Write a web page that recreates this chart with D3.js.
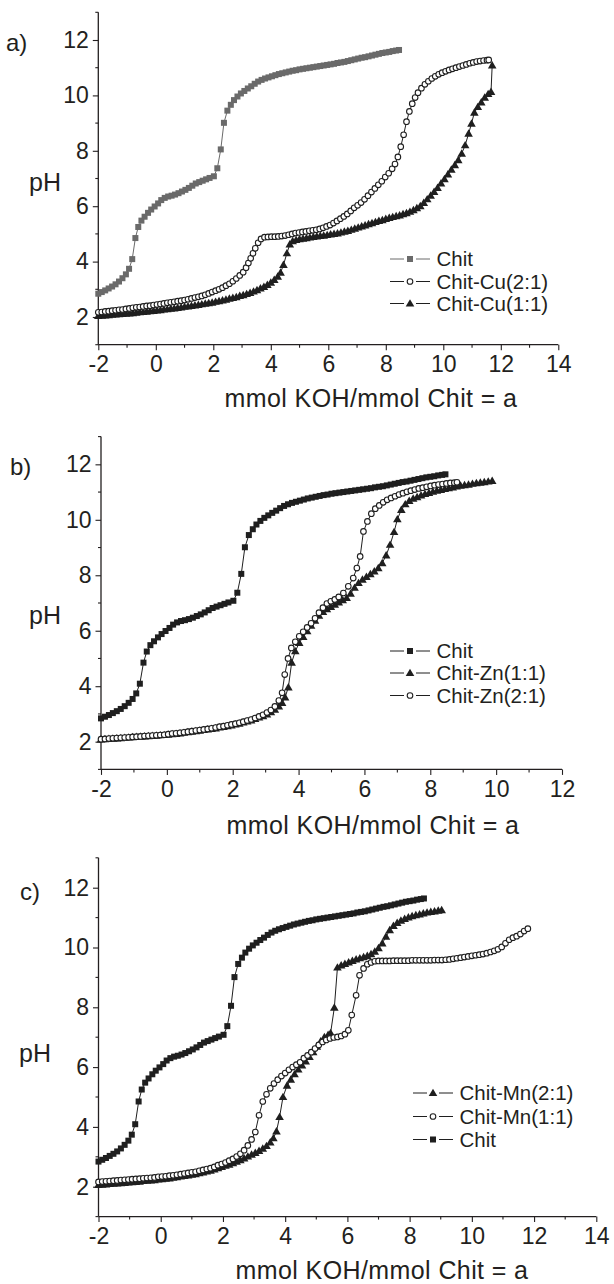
<!DOCTYPE html>
<html><head><meta charset="utf-8">
<script src="https://cdn.jsdelivr.net/npm/d3@7"></script>
<style>
html,body{margin:0;padding:0;background:#fff;}
svg{display:block;}
text{font-family:"Liberation Sans",Arial,sans-serif;fill:#231f20;}
</style></head>
<body>
<svg id="chart" width="614" height="1284"></svg>
<script>
// ---------- data (x = mmol KOH / mmol Chit, y = pH) ----------
const chit = [[-2.00,2.84],[-1.88,2.90],[-1.76,2.96],[-1.64,3.03],[-1.52,3.10],[-1.40,3.18],[-1.28,3.28],[-1.16,3.40],[-1.04,3.54],[-0.93,3.74],[-0.82,4.09],[-0.71,4.85],[-0.61,5.25],[-0.50,5.48],[-0.39,5.62],[-0.27,5.76],[-0.16,5.88],[-0.04,5.99],[0.08,6.10],[0.19,6.22],[0.31,6.30],[0.43,6.35],[0.55,6.38],[0.67,6.42],[0.79,6.47],[0.91,6.53],[1.03,6.59],[1.15,6.66],[1.27,6.74],[1.39,6.82],[1.51,6.87],[1.63,6.92],[1.75,6.97],[1.87,7.02],[2.02,7.08],[2.14,7.37],[2.26,8.05],[2.37,9.01],[2.49,9.45],[2.61,9.66],[2.72,9.83],[2.84,9.96],[2.96,10.07],[3.08,10.16],[3.20,10.25],[3.32,10.33],[3.44,10.42],[3.56,10.50],[3.68,10.56],[3.80,10.61],[3.92,10.65],[4.04,10.69],[4.16,10.73],[4.28,10.77],[4.40,10.80],[4.52,10.83],[4.64,10.86],[4.76,10.89],[4.88,10.91],[5.00,10.94],[5.12,10.96],[5.24,10.98],[5.36,11.00],[5.48,11.02],[5.60,11.04],[5.72,11.06],[5.84,11.08],[5.96,11.10],[6.08,11.12],[6.20,11.14],[6.32,11.17],[6.44,11.19],[6.56,11.21],[6.68,11.24],[6.80,11.27],[6.92,11.30],[7.04,11.33],[7.16,11.36],[7.28,11.38],[7.40,11.41],[7.52,11.44],[7.64,11.47],[7.76,11.50],[7.88,11.53],[8.00,11.55],[8.12,11.57],[8.24,11.60],[8.36,11.62],[8.46,11.64]];

const cu21 = [[-2.00,2.17],[-1.88,2.18],[-1.76,2.20],[-1.64,2.21],[-1.52,2.23],[-1.40,2.24],[-1.28,2.26],[-1.16,2.27],[-1.04,2.29],[-0.92,2.31],[-0.80,2.33],[-0.68,2.35],[-0.56,2.36],[-0.44,2.38],[-0.32,2.40],[-0.20,2.41],[-0.08,2.43],[0.04,2.45],[0.16,2.47],[0.28,2.49],[0.40,2.51],[0.52,2.53],[0.64,2.55],[0.76,2.57],[0.88,2.59],[1.00,2.61],[1.12,2.64],[1.24,2.67],[1.36,2.70],[1.48,2.73],[1.60,2.76],[1.72,2.80],[1.84,2.85],[1.96,2.90],[2.08,2.95],[2.20,3.00],[2.32,3.06],[2.44,3.13],[2.56,3.20],[2.68,3.29],[2.80,3.39],[2.92,3.50],[3.04,3.62],[3.14,3.78],[3.22,3.95],[3.30,4.12],[3.38,4.30],[3.46,4.48],[3.56,4.68],[3.66,4.82],[3.78,4.88],[3.90,4.89],[4.02,4.90],[4.14,4.90],[4.26,4.91],[4.38,4.92],[4.50,4.94],[4.62,4.97],[4.74,5.00],[4.86,5.03],[4.98,5.05],[5.10,5.07],[5.22,5.09],[5.34,5.11],[5.46,5.13],[5.58,5.15],[5.70,5.18],[5.82,5.22],[5.94,5.27],[6.06,5.32],[6.18,5.39],[6.30,5.47],[6.42,5.55],[6.54,5.63],[6.66,5.72],[6.78,5.83],[6.90,5.94],[7.02,6.03],[7.14,6.13],[7.26,6.25],[7.38,6.38],[7.50,6.51],[7.62,6.64],[7.74,6.77],[7.86,6.90],[7.98,7.05],[8.10,7.19],[8.22,7.35],[8.32,7.52],[8.42,7.78],[8.52,8.15],[8.62,8.58],[8.72,9.05],[8.82,9.42],[8.92,9.70],[9.02,9.92],[9.12,10.10],[9.24,10.26],[9.36,10.40],[9.48,10.51],[9.60,10.61],[9.72,10.69],[9.84,10.76],[9.96,10.82],[10.08,10.87],[10.20,10.92],[10.32,10.96],[10.44,11.00],[10.56,11.04],[10.68,11.08],[10.80,11.12],[10.92,11.16],[11.04,11.19],[11.16,11.22],[11.28,11.24],[11.40,11.26],[11.52,11.27],[11.58,11.28]];

const cu11 = [[-2.00,2.04],[-1.88,2.05],[-1.76,2.06],[-1.64,2.07],[-1.52,2.08],[-1.40,2.09],[-1.28,2.10],[-1.16,2.11],[-1.04,2.12],[-0.92,2.13],[-0.80,2.14],[-0.68,2.16],[-0.56,2.17],[-0.44,2.18],[-0.32,2.19],[-0.20,2.21],[-0.08,2.22],[0.04,2.24],[0.16,2.25],[0.28,2.27],[0.40,2.28],[0.52,2.30],[0.64,2.31],[0.76,2.33],[0.88,2.35],[1.00,2.37],[1.12,2.38],[1.24,2.40],[1.36,2.42],[1.48,2.44],[1.60,2.46],[1.72,2.48],[1.84,2.50],[1.96,2.52],[2.08,2.55],[2.20,2.57],[2.32,2.60],[2.44,2.63],[2.56,2.66],[2.68,2.69],[2.80,2.72],[2.92,2.76],[3.04,2.79],[3.16,2.83],[3.28,2.87],[3.40,2.92],[3.52,2.97],[3.64,3.03],[3.76,3.09],[3.88,3.16],[4.00,3.24],[4.12,3.34],[4.24,3.46],[4.34,3.60],[4.44,3.88],[4.56,4.30],[4.66,4.62],[4.76,4.74],[4.88,4.78],[5.00,4.81],[5.12,4.83],[5.24,4.85],[5.36,4.87],[5.48,4.89],[5.60,4.91],[5.72,4.93],[5.84,4.94],[5.96,4.96],[6.08,4.98],[6.20,5.00],[6.32,5.02],[6.44,5.05],[6.56,5.08],[6.68,5.11],[6.80,5.15],[6.92,5.19],[7.04,5.23],[7.16,5.27],[7.28,5.31],[7.40,5.35],[7.52,5.39],[7.64,5.43],[7.76,5.47],[7.88,5.50],[8.00,5.54],[8.12,5.58],[8.24,5.61],[8.36,5.64],[8.48,5.67],[8.60,5.71],[8.72,5.75],[8.84,5.80],[8.96,5.86],[9.08,5.93],[9.20,6.00],[9.32,6.12],[9.44,6.25],[9.56,6.38],[9.68,6.52],[9.80,6.66],[9.92,6.82],[10.04,6.98],[10.16,7.15],[10.28,7.32],[10.40,7.48],[10.52,7.66],[10.64,7.90],[10.76,8.20],[10.88,8.62],[10.98,8.98],[11.08,9.38],[11.20,9.58],[11.32,9.75],[11.44,9.92],[11.56,10.05],[11.66,10.13],[11.70,11.08]];

const zn11 = [[-2.00,2.08],[-1.88,2.09],[-1.76,2.10],[-1.64,2.11],[-1.52,2.12],[-1.40,2.13],[-1.28,2.14],[-1.16,2.15],[-1.04,2.16],[-0.92,2.17],[-0.80,2.18],[-0.68,2.19],[-0.56,2.20],[-0.44,2.21],[-0.32,2.22],[-0.20,2.23],[-0.08,2.24],[0.04,2.25],[0.16,2.27],[0.28,2.28],[0.40,2.30],[0.52,2.32],[0.64,2.34],[0.76,2.36],[0.88,2.38],[1.00,2.40],[1.12,2.42],[1.24,2.44],[1.36,2.46],[1.48,2.48],[1.60,2.51],[1.72,2.53],[1.84,2.56],[1.96,2.59],[2.08,2.62],[2.20,2.65],[2.32,2.69],[2.44,2.73],[2.56,2.77],[2.68,2.82],[2.80,2.87],[2.92,2.92],[3.04,2.98],[3.16,3.06],[3.28,3.15],[3.40,3.27],[3.50,3.40],[3.59,3.60],[3.69,3.96],[3.79,4.85],[3.90,5.26],[4.02,5.56],[4.14,5.78],[4.26,5.98],[4.38,6.18],[4.50,6.36],[4.62,6.54],[4.74,6.68],[4.86,6.78],[4.98,6.86],[5.10,6.94],[5.22,7.02],[5.34,7.10],[5.46,7.18],[5.58,7.34],[5.70,7.55],[5.82,7.72],[5.94,7.84],[6.06,7.94],[6.18,8.04],[6.30,8.14],[6.42,8.26],[6.54,8.44],[6.66,8.72],[6.78,9.10],[6.90,9.56],[7.00,10.02],[7.12,10.36],[7.24,10.56],[7.36,10.68],[7.48,10.76],[7.60,10.82],[7.72,10.88],[7.84,10.93],[7.96,10.97],[8.08,11.01],[8.20,11.05],[8.32,11.08],[8.44,11.11],[8.56,11.14],[8.68,11.17],[8.80,11.20],[8.92,11.23],[9.04,11.25],[9.16,11.27],[9.28,11.30],[9.40,11.32],[9.52,11.34],[9.64,11.36],[9.76,11.38],[9.88,11.40]];

const zn21 = [[-2.00,2.09],[-1.88,2.10],[-1.76,2.11],[-1.64,2.12],[-1.52,2.13],[-1.40,2.14],[-1.28,2.15],[-1.16,2.16],[-1.04,2.17],[-0.92,2.18],[-0.80,2.19],[-0.68,2.20],[-0.56,2.21],[-0.44,2.22],[-0.32,2.23],[-0.20,2.24],[-0.08,2.25],[0.04,2.27],[0.16,2.29],[0.28,2.30],[0.40,2.32],[0.52,2.34],[0.64,2.36],[0.76,2.38],[0.88,2.40],[1.00,2.42],[1.12,2.44],[1.24,2.46],[1.36,2.48],[1.48,2.51],[1.60,2.54],[1.72,2.56],[1.84,2.59],[1.96,2.62],[2.08,2.65],[2.20,2.68],[2.32,2.72],[2.44,2.76],[2.56,2.80],[2.68,2.85],[2.80,2.91],[2.92,2.97],[3.04,3.05],[3.16,3.14],[3.28,3.27],[3.40,3.48],[3.50,3.76],[3.58,4.42],[3.68,5.00],[3.78,5.38],[3.90,5.60],[4.02,5.80],[4.14,5.96],[4.26,6.12],[4.38,6.27],[4.50,6.45],[4.62,6.65],[4.74,6.83],[4.86,6.98],[4.98,7.06],[5.10,7.13],[5.22,7.22],[5.36,7.36],[5.51,7.60],[5.66,7.90],[5.77,8.26],[5.87,8.68],[5.97,9.58],[6.09,9.94],[6.21,10.22],[6.33,10.40],[6.45,10.52],[6.57,10.63],[6.69,10.72],[6.81,10.79],[6.93,10.85],[7.05,10.91],[7.17,10.96],[7.29,11.01],[7.41,11.05],[7.53,11.09],[7.65,11.13],[7.77,11.16],[7.89,11.19],[8.01,11.22],[8.13,11.25],[8.25,11.27],[8.37,11.29],[8.49,11.31],[8.61,11.33],[8.73,11.34],[8.81,11.35]];

const mn21 = [[-2.00,2.06],[-1.88,2.07],[-1.76,2.08],[-1.64,2.09],[-1.52,2.10],[-1.40,2.11],[-1.28,2.12],[-1.16,2.13],[-1.04,2.14],[-0.92,2.15],[-0.80,2.16],[-0.68,2.17],[-0.56,2.19],[-0.44,2.20],[-0.32,2.21],[-0.20,2.22],[-0.08,2.24],[0.04,2.25],[0.16,2.27],[0.28,2.28],[0.40,2.30],[0.52,2.32],[0.64,2.34],[0.76,2.36],[0.88,2.38],[1.00,2.40],[1.12,2.42],[1.24,2.45],[1.36,2.48],[1.48,2.51],[1.60,2.54],[1.72,2.58],[1.84,2.62],[1.96,2.66],[2.08,2.70],[2.20,2.74],[2.32,2.79],[2.44,2.84],[2.56,2.89],[2.68,2.95],[2.80,3.01],[2.92,3.07],[3.04,3.13],[3.16,3.20],[3.28,3.27],[3.40,3.36],[3.52,3.48],[3.62,3.62],[3.72,3.85],[3.82,4.33],[3.93,5.00],[4.06,5.38],[4.18,5.58],[4.30,5.76],[4.42,5.92],[4.54,6.06],[4.66,6.19],[4.78,6.34],[4.90,6.50],[5.02,6.68],[5.14,6.86],[5.26,7.00],[5.38,7.08],[5.46,7.14],[5.58,7.99],[5.68,9.33],[5.80,9.40],[5.92,9.45],[6.04,9.50],[6.16,9.55],[6.28,9.60],[6.40,9.64],[6.52,9.68],[6.64,9.72],[6.76,9.78],[6.88,9.86],[7.00,9.98],[7.12,10.14],[7.24,10.36],[7.36,10.58],[7.48,10.72],[7.60,10.82],[7.72,10.90],[7.84,10.96],[7.96,11.01],[8.08,11.05],[8.20,11.08],[8.32,11.11],[8.44,11.14],[8.56,11.17],[8.68,11.19],[8.80,11.21],[8.92,11.23],[9.03,11.25]];

const mn11 = [[-2.00,2.16],[-1.88,2.17],[-1.76,2.18],[-1.64,2.19],[-1.52,2.20],[-1.40,2.21],[-1.28,2.22],[-1.16,2.23],[-1.04,2.24],[-0.92,2.25],[-0.80,2.26],[-0.68,2.27],[-0.56,2.28],[-0.44,2.29],[-0.32,2.30],[-0.20,2.31],[-0.08,2.33],[0.04,2.34],[0.16,2.35],[0.28,2.37],[0.40,2.38],[0.52,2.40],[0.64,2.42],[0.76,2.44],[0.88,2.46],[1.00,2.48],[1.12,2.50],[1.24,2.53],[1.36,2.56],[1.48,2.59],[1.60,2.62],[1.72,2.66],[1.84,2.72],[1.96,2.76],[2.08,2.81],[2.20,2.87],[2.32,2.93],[2.44,3.01],[2.56,3.10],[2.68,3.22],[2.80,3.38],[2.92,3.58],[3.04,3.83],[3.16,4.39],[3.28,4.85],[3.40,5.09],[3.52,5.29],[3.64,5.45],[3.76,5.58],[3.88,5.70],[4.00,5.80],[4.12,5.91],[4.24,6.00],[4.36,6.08],[4.48,6.16],[4.60,6.30],[4.72,6.39],[4.84,6.50],[4.96,6.62],[5.08,6.74],[5.20,6.84],[5.32,6.91],[5.44,6.96],[5.56,6.99],[5.68,7.01],[5.80,7.04],[5.92,7.10],[6.03,7.23],[6.14,7.74],[6.28,8.40],[6.39,9.07],[6.52,9.30],[6.64,9.44],[6.76,9.50],[6.88,9.54],[7.00,9.55],[7.12,9.55],[7.24,9.55],[7.36,9.55],[7.48,9.56],[7.60,9.56],[7.72,9.56],[7.84,9.56],[7.96,9.56],[8.08,9.57],[8.20,9.57],[8.32,9.57],[8.44,9.57],[8.56,9.57],[8.68,9.57],[8.80,9.58],[8.92,9.58],[9.04,9.58],[9.16,9.59],[9.28,9.60],[9.40,9.62],[9.52,9.64],[9.64,9.66],[9.76,9.68],[9.88,9.70],[10.00,9.72],[10.12,9.74],[10.24,9.76],[10.36,9.78],[10.48,9.81],[10.60,9.85],[10.72,9.89],[10.84,9.94],[10.96,10.02],[11.08,10.14],[11.20,10.26],[11.32,10.33],[11.44,10.38],[11.56,10.45],[11.68,10.55],[11.80,10.63]];

const yTicks = [2, 4, 6, 8, 10, 12];
const xTicksA = [-2, 0, 2, 4, 6, 8, 10, 12, 14];
const xTicksB = [-2, 0, 2, 4, 6, 8, 10, 12];
const xTicksC = [-2, 0, 2, 4, 6, 8, 10, 12, 14];
const xTitle = "mmol KOH/mmol Chit = a";
const yTitle = "pH";

// ---------- layout ----------
const panels = [
  { tag: "a)", xDomain: [-2, 14], xTicks: xTicksA, xr: [98.3, 558.3], yr: [344.7, 12.3],
    tagPos: [6, 51], pHPos: [29, 191], titleX: 371, titleY: 407,
    legend: { x: 390, ys: [259, 281.5, 303.5] },
    series: [
      { name: "Chit", data: chit, shape: "square", color: "#6a6a6a" },
      { name: "Chit-Cu(2:1)", data: cu21, shape: "circle", color: "#1f1f1f" },
      { name: "Chit-Cu(1:1)", data: cu11, shape: "triangle", color: "#1f1f1f" }
    ], drawOrder: [2, 1, 0] },
  { tag: "b)", xDomain: [-2, 12], xTicks: xTicksB, xr: [101, 562], yr: [769.4, 436.6],
    tagPos: [10, 475], pHPos: [29, 624], titleX: 373, titleY: 834,
    legend: { x: 390, ys: [651, 673, 695.5] },
    series: [
      { name: "Chit", data: chit, shape: "square", color: "#1f1f1f" },
      { name: "Chit-Zn(1:1)", data: zn11, shape: "triangle", color: "#1f1f1f" },
      { name: "Chit-Zn(2:1)", data: zn21, shape: "circle", color: "#1f1f1f" }
    ], drawOrder: [1, 2, 0] },
  { tag: "c)", xDomain: [-2, 14], xTicks: xTicksC, xr: [98.5, 596.3], yr: [1216.6, 857.8],
    tagPos: [20, 900], pHPos: [19, 1062], titleX: 382, titleY: 1279,
    legend: { x: 413, ys: [1093, 1116.5, 1139.5] },
    series: [
      { name: "Chit-Mn(2:1)", data: mn21, shape: "triangle", color: "#1f1f1f" },
      { name: "Chit-Mn(1:1)", data: mn11, shape: "circle", color: "#1f1f1f" },
      { name: "Chit", data: chit, shape: "square", color: "#1f1f1f" }
    ], drawOrder: [0, 1, 2] }
];

const svg = d3.select("#chart");
const axisColor = "#231f20";

function drawMarker(g, shape, color, cx, cy) {
  if (shape === "square") {
    g.append("rect").attr("x", cx - 3).attr("y", cy - 3).attr("width", 6).attr("height", 6)
      .attr("fill", color);
  } else if (shape === "circle") {
    g.append("circle").attr("cx", cx).attr("cy", cy).attr("r", 2.8)
      .attr("fill", "#fff").attr("stroke", color).attr("stroke-width", 1.1);
  } else {
    g.append("path").attr("d", d3.symbol().type(d3.symbolTriangle).size(32)())
      .attr("transform", `translate(${cx},${cy + 0.6})`).attr("fill", color);
  }
}

panels.forEach(p => {
  const x = d3.scaleLinear().domain(p.xDomain).range(p.xr);
  const y = d3.scaleLinear().domain([1, 13]).range(p.yr);
  const g = svg.append("g");

  const minorX = d3.range(p.xDomain[0], p.xDomain[1] + 1, 1).filter(v => !p.xTicks.includes(v));
  const minorY = d3.range(1, 14, 1).filter(v => !yTicks.includes(v));

  const xAxis = g.append("g").attr("transform", `translate(0,${p.yr[0]})`)
    .call(d3.axisBottom(x).tickValues(p.xTicks).tickSize(5.5).tickPadding(5)
      .tickFormat(d => d < 0 ? "-" + Math.abs(d) : String(d)));
  xAxis.append("g").selectAll("line").data(minorX).join("line")
    .attr("x1", d => x(d)).attr("x2", d => x(d)).attr("y1", 0).attr("y2", 3).attr("stroke", axisColor).attr("stroke-width", 1.1);

  const yAxis = g.append("g").attr("transform", `translate(${p.xr[0]},0)`)
    .call(d3.axisLeft(y).tickValues(yTicks).tickSize(5.5).tickPadding(4));
  yAxis.append("g").selectAll("line").data(minorY).join("line")
    .attr("y1", d => y(d)).attr("y2", d => y(d)).attr("x1", 0).attr("x2", -3).attr("stroke", axisColor).attr("stroke-width", 1.1);

  [xAxis, yAxis].forEach(a => {
    a.select(".domain").attr("stroke", axisColor).attr("stroke-width", 1.3)
      .attr("d", a === xAxis ? `M${p.xr[0]},0H${p.xr[1]}` : `M0,${p.yr[0]}V${p.yr[1]}`);
    a.selectAll(".tick line").attr("stroke", axisColor).attr("stroke-width", 1.1);
    a.selectAll(".tick text").attr("font-size", 23).attr("fill", "#231f20")
      .attr("font-family", "'Liberation Sans', Arial, sans-serif");
  });
  xAxis.selectAll(".tick text").attr("dy", "0.72em").attr("y", 11);

  // labels
  g.append("text").attr("x", p.titleX).attr("y", p.titleY).attr("text-anchor", "middle")
    .attr("font-size", 25).attr("letter-spacing", 0.4).text(xTitle);
  g.append("text").attr("x", p.pHPos[0]).attr("y", p.pHPos[1]).attr("font-size", 25).text(yTitle);
  g.append("text").attr("x", p.tagPos[0]).attr("y", p.tagPos[1]).attr("font-size", 24).text(p.tag);

  // series
  const line = d3.line().x(d => x(d[0])).y(d => y(d[1]));
  p.drawOrder.forEach(i => {
    const s = p.series[i];
    const sg = g.append("g");
    sg.append("path").datum(s.data).attr("d", line).attr("fill", "none")
      .attr("stroke", s.color).attr("stroke-width", 1);
    s.data.forEach(d => drawMarker(sg, s.shape, s.color, x(d[0]), y(d[1])));
  });

  // legend
  p.series.forEach((s, i) => {
    const ly = p.legend.ys[i];
    const lx = p.legend.x;
    const lg = g.append("g");
    lg.append("line").attr("x1", lx).attr("x2", lx + 14).attr("y1", ly).attr("y2", ly)
      .attr("stroke", s.color).attr("stroke-width", 1);
    lg.append("line").attr("x1", lx + 26).attr("x2", lx + 40).attr("y1", ly).attr("y2", ly)
      .attr("stroke", s.color).attr("stroke-width", 1);
    drawMarker(lg, s.shape, s.color, lx + 20, ly);
    lg.append("text").attr("x", lx + 46.5).attr("y", ly + 7).attr("font-size", 20.5).text(s.name);
  });
});
</script>
</body></html>
